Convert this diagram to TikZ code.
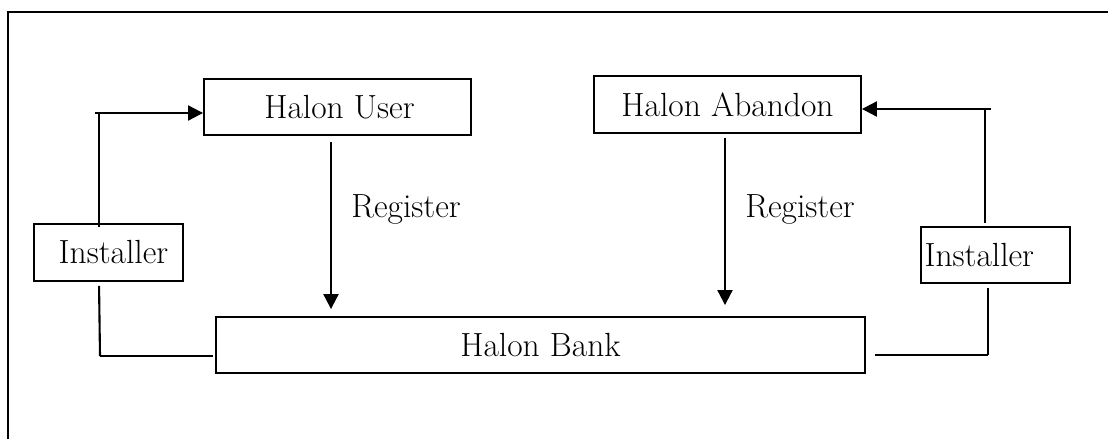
\documentclass[tikz,border=0pt]{standalone}
\usepackage{fontspec}
\usetikzlibrary{arrows.meta}
\begin{document}
\begin{tikzpicture}[x=1pt,y=-1pt,
  font=\fontsize{33.5}{38}\selectfont,
  box/.style={draw,line width=1.9pt,rectangle,inner sep=0pt,
    minimum width=#1,minimum height=56pt},
  link/.style={line width=2.1pt},
  arr/.style={link,-{Triangle[length=15pt,width=15pt]}},
  lbl/.style={inner sep=0pt,anchor=base}]
\useasboundingbox (0,0) rectangle (1108,439);
% outer frame: left and top edges only
\draw[line width=1.6pt] (8,439) -- (8,12) -- (1108,12);

% boxes
\node[box=267pt] (user) at (337.5,107) {\hspace{4pt}Halon User};
\node[box=267pt,minimum height=57pt] (aband) at (727.5,104.5) {Halon Abandon\hspace{8pt}};
\node[box=649pt] (bank) at (540.5,345) {Halon Bank};
\node[box=149pt,minimum height=57pt] (instL) at (108.5,252.5) {\hspace{10pt}Installer};
\node[box=149pt,text width=142pt,align=left,inner xsep=3.5pt] (instR) at (995.5,255) {Installer};

% register arrows
\coordinate (regL) at (331,0);
\coordinate (regR) at (725,0);
\draw[arr,shorten <=6pt,shorten >=7pt] (user.south -| regL) -- (bank.north -| regL);
\draw[arr,shorten <=4pt,shorten >=11pt] (aband.south -| regR) -- (bank.north -| regR);
\node[lbl] (regLtxt) at (406,217) {Register};
\node[lbl] (regRtxt) at (800,217) {Register};

% left installer loop
\coordinate (lUp) at (99,113);
\coordinate (lTop) at (95,113);
\coordinate (lKnee) at (100,356);
\draw[link,shorten <=-4pt] (instL.north -| lUp) -- (lUp);
\draw[arr] (lTop) -- (lTop -| user.west);
\draw[link,shorten <=4pt] (instL.south -| lUp) -- (lKnee);
\draw[link,shorten >=2pt] (lKnee) -- (bank.west |- lKnee);

% right installer loop
\coordinate (rUp) at (985,109);
\coordinate (rTop) at (991,109);
\coordinate (rKnee) at (988,355);
\draw[link,shorten <=3pt] (instR.north -| rUp) -- (rUp);
\draw[arr] (rTop) -- (rTop -| aband.east);
\draw[link,shorten <=4pt] (instR.south -| rKnee) -- (rKnee);
\draw[link,shorten >=9pt] (rKnee) -- (bank.east |- rKnee);
\end{tikzpicture}
\end{document}
